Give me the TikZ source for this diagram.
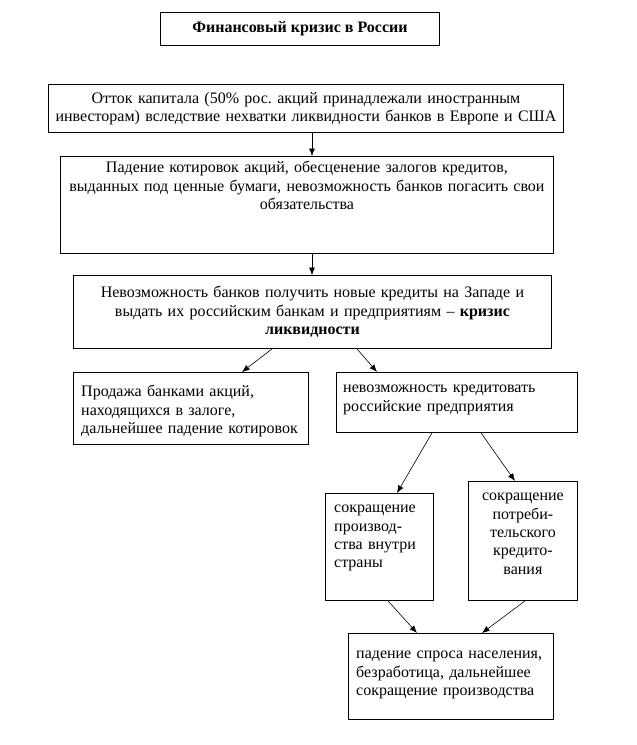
\documentclass[tikz,border=0pt]{standalone}
\usepackage{fontspec}
\setmainfont{Liberation Serif}
\usepackage{tikz}
\usetikzlibrary{calc}
\usetikzlibrary{arrows.meta}
\frenchspacing

\tikzset{
  box/.style={draw, line width=0.9pt, anchor=north west, inner sep=0pt},
  txt/.style={inner sep=0pt, font=\fontsize{16}{18.4}\selectfont},
  arr/.style={line width=0.6pt, -{Latex[length=7.5pt, width=6pt]}},
}

\begin{document}
\begin{tikzpicture}[x=1pt, y=-1pt]
          \useasboundingbox[fill=white] (0,0) rectangle (637,745);
          \coordinate (axis) at (312,0);

          % рамки
          \node[box, minimum width=279pt, minimum height=33pt] (title) at (160,12) {};
          \node[box, minimum width=515pt, minimum height=48pt] (b2) at (48,84) {};
          \node[box, minimum width=493pt, minimum height=97pt] (b3) at (60,156) {};
          \node[box, minimum width=478pt, minimum height=73pt] (b4) at (73,275) {};
          \node[box, minimum width=235pt, minimum height=72pt] (b5l) at (73,372) {};
          \node[box, minimum width=241pt, minimum height=60pt] (b5r) at (336,372) {};
          \node[box, minimum width=108pt, minimum height=107pt] (b6l) at (325,493) {};
          \node[box, minimum width=109pt, minimum height=119pt] (b6r) at (468,481) {};
          \node[box, minimum width=205pt, minimum height=86pt] (b7) at (348,633) {};

          % тексты
          \node[txt, font=\fontsize{16}{18.4}\selectfont\bfseries] (title-t) at (title.center) {Финансовый кризис в России};
          \node[txt, text width=510pt, align=center] (b2-t) at (b2.center)
            {Отток капитала (50\% рос. акций принадлежали иностранным\\
             инвесторам) вследствие нехватки ликвидности банков в Европе и США};
          \node[txt, text width=490pt, align=center, anchor=north] (b3-t) at (b3.north |- 0,161)
            {Падение котировок акций, обесценение залогов кредитов,\\
             выданных под ценные бумаги, невозможность банков погасить свои\\
             обязательства};
          \node[txt, text width=470pt, align=center] (b4-t) at (b4.center)
            {Невозможность банков получить новые кредиты на Западе и\\
             выдать их российским банкам и предприятиям – \textbf{кризис}\\
             \textbf{ликвидности}};
          \node[txt, text width=220pt, align=left, anchor=north west] (b5l-t) at (81,385)
            {Продажа банками акций,\\ находящихся в залоге,\\ дальнейшее падение котировок};
          \node[txt, text width=230pt, align=left, anchor=north west] (b5r-t) at (343,385)
            {невозможность кредитовать\\ российские предприятия};
          \node[txt, text width=95pt, align=left, anchor=north west] (b6l-t) at (334,505)
            {сокращение\\ производ-\\ ства внутри\\ страны};
          \node[txt, text width=100pt, align=center, anchor=north] (b6r-t) at (b6r.north |- 0,493)
            {сокращение\\ потреби-\\ тельского\\ кредито-\\ вания};
          \node[txt, text width=195pt, align=left, anchor=north west] (b7-t) at (356,651)
            {падение спроса населения,\\ безработица, дальнейшее\\ сокращение производства};

          % стрелки
          \draw[arr] (b2.south -| axis) -- (b3.north -| axis);
          \draw[arr] (b3.south -| axis) -- (b4.north -| axis);
          \draw[arr] ([xshift=199pt]b4.south west) -- ([xshift=169pt]b5l.north west);
          \draw[arr] ([xshift=284pt]b4.south west) -- ([xshift=41pt]b5r.north west);
          \draw[arr] ([xshift=96pt]b5r.south west) -- ([xshift=72pt]b6l.north west);
          \draw[arr] ([xshift=145pt]b5r.south west) -- ([xshift=47pt]b6r.north west);
          \draw[arr] ([xshift=63pt]b6l.south west) -- ([xshift=69pt]b7.north west);
          \draw[arr] ([xshift=57pt]b6r.south west) -- ([xshift=134pt]b7.north west);
        \end{tikzpicture}
\end{document}
